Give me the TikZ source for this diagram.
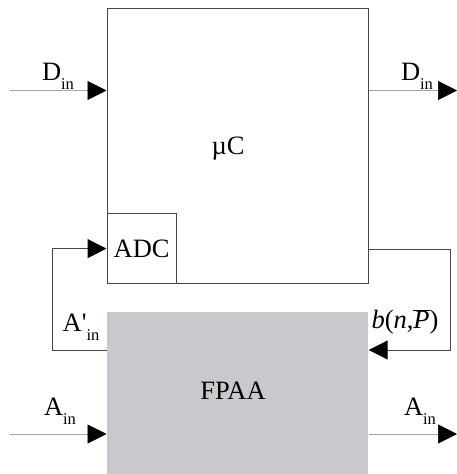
\documentclass[tikz,border=0pt]{standalone}
\usepackage{fontspec}
\setmainfont{Liberation Serif}
\usepackage{tikz}
\usetikzlibrary{arrows.meta, positioning}

\definecolor{boxline}{RGB}{70,70,70}
\definecolor{fpaagray}{RGB}{200,201,204}
\newcommand{\insub}{\raisebox{-9pt}{\fontsize{16.5}{16.5}\selectfont in}}

\begin{document}
\begin{tikzpicture}[
    x=1pt, y=-1pt,
    every node/.style={inner sep=0pt, font=\fontsize{26.5}{30}\selectfont},
    block/.style={draw=boxline, line width=1.2pt, anchor=north west},
    sig/.style={draw=gray!70, line width=0.7pt},
    loopline/.style={draw=boxline, line width=1pt},
    >={Triangle[length=19pt, width=19pt, color=black]}
]
\useasboundingbox (0,0) rectangle (457,474);

% blocks
\node[block, minimum width=261pt, minimum height=275.5pt] (uc) at (106.5,7.5) {};
\node[block, minimum width=69pt, minimum height=70pt, anchor=south west] (adc) at (uc.south west) {};
\node[block, draw=none, fill=fpaagray, minimum width=261pt, minimum height=163pt] (fpaa) at (106.5,311.5) {};

% labels
\node (uclabel) at (228,149) {µC};
\node (adclabel) at (adc.center) {ADC};
\node (fpaalabel) at (233,391) {FPAA};
\node (dinl) at (58,76) {D\insub};
\node (dinr) at (417,76) {D\insub};
\node (ainl) at (60,411) {A\insub};
\node (ainr) at (420,411) {A\insub};
\node (apin) at (81,327) {A\textquotesingle\insub};
\node (bnp) at (405,322) {\textit{b}(\textit{n},$\overline{\mbox{\textit{P}}}$)};

% outside signals
\coordinate (dinstart) at (10,90.5);
\coordinate (dinend) at (457,90.5);
\coordinate (ainstart) at (10,434);
\coordinate (ainend) at (457,434);
\draw[sig, ->] (dinstart) -- (dinstart -| uc.west);
\draw[sig, ->] (dinstart -| uc.east) -- (dinend);
\draw[sig, ->] (ainstart) -- (ainstart -| fpaa.west);
\draw[sig, ->] (ainstart -| fpaa.east) -- (ainend);

% feedback loops
\coordinate (leftturn) at (52,350);
\coordinate (rightturn) at (450,249);
\draw[loopline, ->] (leftturn -| fpaa.west) -- (leftturn) |- (adc.west);
\draw[loopline, ->] (rightturn -| uc.east) -- (rightturn) |- (leftturn -| fpaa.east);
\end{tikzpicture}
\end{document}
